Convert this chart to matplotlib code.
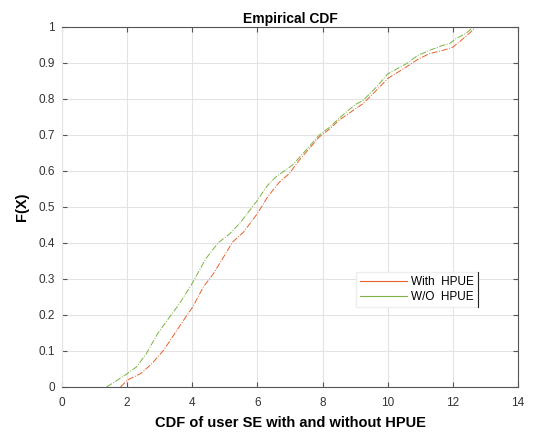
import numpy as np
import matplotlib.pyplot as plt
from matplotlib.lines import Line2D

# Data (empirical CDF of user SE)
WITH_SE = [1.80, 2.00, 2.41, 2.76, 3.12, 3.53, 3.84, 4.01, 4.34, 4.65, 4.96, 5.24,
           5.57, 6.00, 6.31, 6.67, 6.98, 7.28, 7.59, 7.89, 8.22, 8.50, 8.73, 9.01,
           9.24, 9.65, 10.00, 10.57, 10.92, 11.28, 11.69, 12.00, 12.19, 12.50, 12.70]
WITH_F = [0.000, 0.019, 0.037, 0.065, 0.102, 0.158, 0.200, 0.222, 0.278, 0.315, 0.361, 0.403,
          0.430, 0.482, 0.528, 0.569, 0.593, 0.630, 0.662, 0.694, 0.717, 0.741, 0.755, 0.773,
          0.787, 0.824, 0.857, 0.889, 0.910, 0.926, 0.935, 0.944, 0.958, 0.982, 1.000]

WO_SE = [1.37, 1.94, 2.29, 2.59, 2.94, 3.35, 3.61, 3.99, 4.42, 4.79, 5.15, 5.45,
         5.96, 6.31, 6.56, 7.07, 7.48, 7.89, 8.22, 8.50, 8.73, 9.01, 9.24, 9.65,
         10.00, 10.57, 10.92, 11.28, 11.69, 11.90, 12.10, 12.40, 12.60]
WO_F = [0.000, 0.033, 0.056, 0.093, 0.149, 0.200, 0.232, 0.287, 0.357, 0.400, 0.426, 0.454,
        0.514, 0.560, 0.583, 0.616, 0.657, 0.699, 0.722, 0.746, 0.764, 0.785, 0.796, 0.833,
        0.870, 0.898, 0.921, 0.935, 0.949, 0.954, 0.968, 0.982, 0.998]

C_WITH = '#e8602c'
C_WO = '#7cb342'

plt.rcParams['font.family'] = ['Liberation Sans', 'DejaVu Sans']

fig = plt.figure(figsize=(5.33, 4.34), dpi=100)
ax = fig.add_axes([0.1163, 0.1083, 0.8557, 0.8295])

ax.plot(WITH_SE, WITH_F, color=C_WITH, linestyle='-.', linewidth=0.7)
ax.plot(WO_SE, WO_F, color=C_WO, linestyle='-.', linewidth=0.7)

ax.set_xlim(0, 14)
ax.set_ylim(0, 1)
ax.set_xticks(np.arange(0, 15, 2))
ax.set_yticks(np.arange(0, 1.01, 0.1))
ax.set_yticklabels(['0', '0.1', '0.2', '0.3', '0.4', '0.5', '0.6', '0.7', '0.8', '0.9', '1'])
ax.grid(True, color='#e3e3e3', linewidth=0.8)
ax.set_axisbelow(True)
ax.tick_params(direction='in', length=3.5, labelsize=8.5, colors='#555555',
               labelcolor='#333333', top=True, right=True, pad=5)
ax.tick_params(axis='x', pad=7)
for s in ax.spines.values():
    s.set_color('#555555')
    s.set_linewidth(0.8)
ax.spines['left'].set_color('#e3e3e3')

ax.set_title('Empirical CDF', fontsize=10, fontweight='bold', pad=3)
ax.set_xlabel('CDF of user SE with and without HPUE', fontsize=10.5,
              fontweight='bold', labelpad=5)
ax.set_ylabel('F(X)', fontsize=10.5, fontweight='bold', labelpad=7)

handles = [Line2D([], [], color=C_WITH, linewidth=0.8),
           Line2D([], [], color=C_WO, linewidth=0.8)]
leg = ax.legend(handles, ['With  HPUE', 'W/O  HPUE'], loc='lower left',
                bbox_to_anchor=(0.632, 0.205), fontsize=8.5, fancybox=False,
                framealpha=1, edgecolor='#eeeeee', handlelength=4.0,
                borderpad=0.35, labelspacing=0.25, handletextpad=0.3)

# dark right edge of the legend box, as in the reference
fig.canvas.draw()
bb = leg.get_window_extent().transformed(ax.transAxes.inverted())
ax.plot([bb.x1, bb.x1], [bb.y0, bb.y1], color='#262626', linewidth=0.8,
        transform=ax.transAxes, clip_on=False, zorder=6)

fig.savefig('out.png', dpi=100)
